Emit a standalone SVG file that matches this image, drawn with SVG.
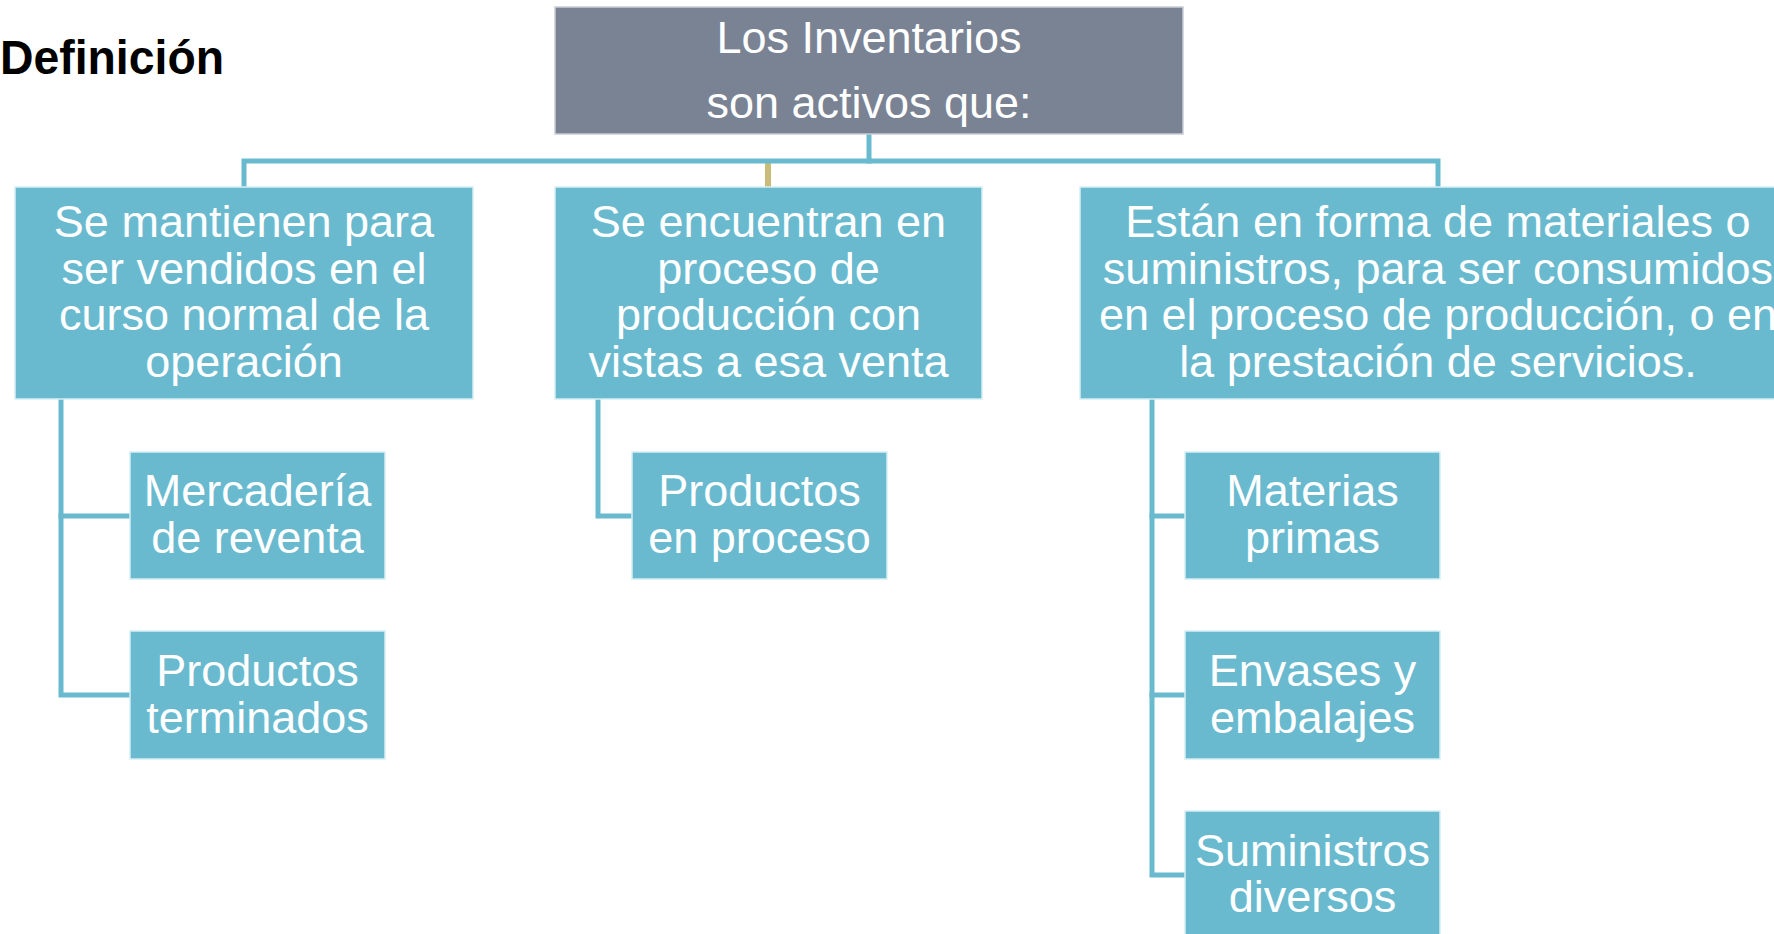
<svg xmlns="http://www.w3.org/2000/svg" width="1774" height="934" viewBox="0 0 1774 934">
<style>
.box{fill:#6ABACF;stroke:#D6EEF4;stroke-width:1.5}
.top{fill:#7A8394;stroke:#C9CDD5;stroke-width:1.5}
.t{font-family:"Liberation Sans",Arial,sans-serif;font-size:45px;fill:#ffffff;text-anchor:middle}
.ln{fill:none;stroke:#6ABACF;stroke-width:5;stroke-linejoin:miter;stroke-linecap:square}
.ol{fill:none;stroke:#C8BD78;stroke-width:6}
.title{font-family:"Liberation Sans",Arial,sans-serif;font-size:48px;font-weight:bold;fill:#000000}
</style>
<rect width="1774" height="934" fill="#ffffff"/>
<text class="title" x="0" y="74" textLength="224" lengthAdjust="spacingAndGlyphs">Definición</text>
<g id="connectors">
<line class="ol" x1="768" y1="163" x2="768" y2="187"/>
<polyline class="ln" points="244,187 244,161 1438,161 1438,187"/>
<line class="ln" x1="869" y1="134" x2="869" y2="161"/>
<polyline class="ln" points="61,399 61,695 130,695"/>
<line class="ln" x1="61" y1="516" x2="130" y2="516"/>
<polyline class="ln" points="598,399 598,516 632,516"/>
<polyline class="ln" points="1152,399 1152,875 1185,875"/>
<line class="ln" x1="1152" y1="516" x2="1185" y2="516"/>
<line class="ln" x1="1152" y1="695" x2="1185" y2="695"/>
</g>
<g id="root">
<rect class="top" x="555" y="7" width="628" height="127"/>
<text class="t" x="869" y="53">Los Inventarios</text>
<text class="t" x="869" y="118">son activos que:</text>
</g>
<g id="n1">
<rect class="box" x="15" y="187" width="458" height="212"/>
<text class="t" x="244" y="237">Se mantienen para</text>
<text class="t" x="244" y="284">ser vendidos en el</text>
<text class="t" x="244" y="330">curso normal de la</text>
<text class="t" x="244" y="377">operación</text>
</g>
<g id="n2">
<rect class="box" x="555" y="187" width="427" height="212"/>
<text class="t" x="768.5" y="237">Se encuentran en</text>
<text class="t" x="768.5" y="284">proceso de</text>
<text class="t" x="768.5" y="330">producción con</text>
<text class="t" x="768.5" y="377">vistas a esa venta</text>
</g>
<g id="n3">
<rect class="box" x="1080" y="187" width="716" height="212"/>
<text class="t" x="1438" y="237">Están en forma de materiales o</text>
<text class="t" x="1438" y="284">suministros, para ser consumidos</text>
<text class="t" x="1438" y="330">en el proceso de producción, o en</text>
<text class="t" x="1438" y="377">la prestación de servicios.</text>
</g>
<g id="n1a">
<rect class="box" x="130" y="452" width="255" height="127"/>
<text class="t" x="257.5" y="506">Mercadería</text>
<text class="t" x="257.5" y="553">de reventa</text>
</g>
<g id="n1b">
<rect class="box" x="130" y="631" width="255" height="128"/>
<text class="t" x="257.5" y="686">Productos</text>
<text class="t" x="257.5" y="733">terminados</text>
</g>
<g id="n2a">
<rect class="box" x="632" y="452" width="255" height="127"/>
<text class="t" x="759.5" y="506">Productos</text>
<text class="t" x="759.5" y="553">en proceso</text>
</g>
<g id="n3a">
<rect class="box" x="1185" y="452" width="255" height="127"/>
<text class="t" x="1312.5" y="506">Materias</text>
<text class="t" x="1312.5" y="553">primas</text>
</g>
<g id="n3b">
<rect class="box" x="1185" y="631" width="255" height="128"/>
<text class="t" x="1312.5" y="686">Envases y</text>
<text class="t" x="1312.5" y="733">embalajes</text>
</g>
<g id="n3c">
<rect class="box" x="1185" y="811" width="255" height="130"/>
<text class="t" x="1312.5" y="866">Suministros</text>
<text class="t" x="1312.5" y="912">diversos</text>
</g>
</svg>
